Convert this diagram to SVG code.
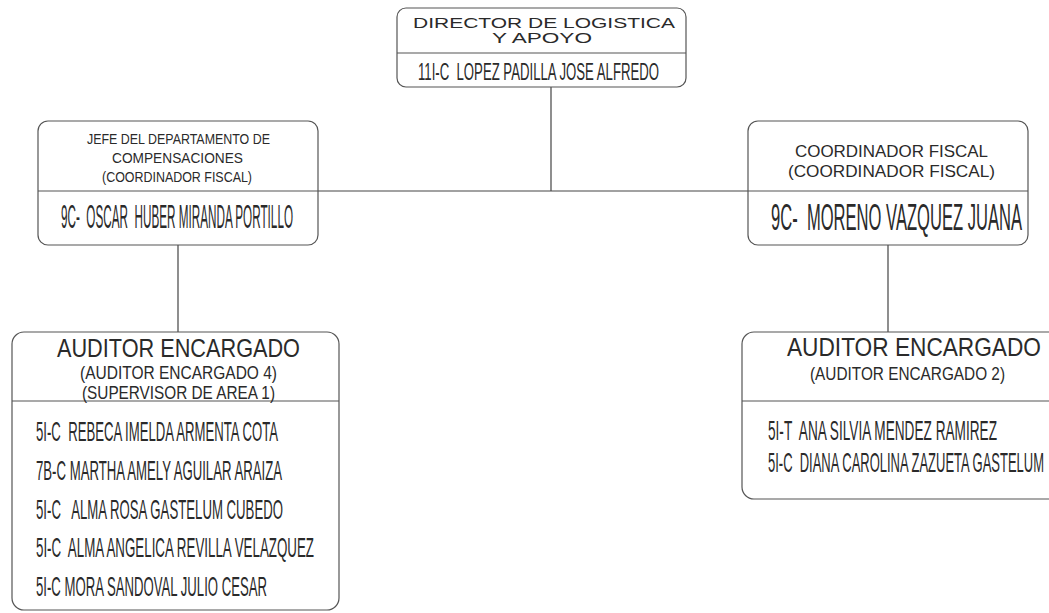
<svg xmlns="http://www.w3.org/2000/svg" width="1049" height="613" viewBox="0 0 1049 613">
<style>
.box{fill:#fff;stroke:#555;stroke-width:1.2}
.div{stroke:#555;stroke-width:1.2}
.conn{stroke:#444;stroke-width:1.2;fill:none}
text{font-family:"Liberation Sans",Arial,sans-serif;fill:#2a2a2a;white-space:pre}
</style>
<rect width="1049" height="613" fill="#fff"/>
<g id="connectors">
<line class="conn" x1="551" y1="87" x2="551" y2="191"/>
<line class="conn" x1="318" y1="191" x2="748" y2="191"/>
<line class="conn" x1="178" y1="245" x2="178" y2="332"/>
<line class="conn" x1="888" y1="245" x2="888" y2="332"/>
</g>
<g id="director">
<rect class="box" x="397" y="8" width="289" height="79" rx="9"/>
<line class="div" x1="397" y1="53" x2="686" y2="53"/>
<text x="413" y="28" font-size="14" textLength="262" lengthAdjust="spacingAndGlyphs">DIRECTOR DE LOGISTICA</text>
<text x="492" y="43" font-size="14" textLength="100" lengthAdjust="spacingAndGlyphs">Y APOYO</text>
<text x="418" y="80" font-size="24" textLength="241" lengthAdjust="spacingAndGlyphs">11I-C  LOPEZ PADILLA JOSE ALFREDO</text>
</g>
<g id="jefe">
<rect class="box" x="38" y="121" width="280" height="124" rx="10"/>
<line class="div" x1="38" y1="191" x2="318" y2="191"/>
<text x="87" y="144" font-size="14" textLength="183" lengthAdjust="spacingAndGlyphs">JEFE DEL DEPARTAMENTO DE</text>
<text x="112" y="163" font-size="14" textLength="131" lengthAdjust="spacingAndGlyphs">COMPENSACIONES</text>
<text x="102" y="182" font-size="14" textLength="150" lengthAdjust="spacingAndGlyphs">(COORDINADOR FISCAL)</text>
<text x="61" y="228" font-size="33" textLength="232" lengthAdjust="spacingAndGlyphs">9C-  OSCAR  HUBER MIRANDA PORTILLO</text>
</g>
<g id="coordinador">
<rect class="box" x="748" y="121" width="280" height="124" rx="10"/>
<line class="div" x1="748" y1="191" x2="1028" y2="191"/>
<text x="795" y="157" font-size="16.5" textLength="193" lengthAdjust="spacingAndGlyphs">COORDINADOR FISCAL</text>
<text x="788" y="177" font-size="16.5" textLength="207" lengthAdjust="spacingAndGlyphs">(COORDINADOR FISCAL)</text>
<text x="771" y="230" font-size="36" textLength="251" lengthAdjust="spacingAndGlyphs">9C-  MORENO VAZQUEZ JUANA</text>
</g>
<g id="auditor4">
<rect class="box" x="12" y="332" width="327" height="278" rx="12"/>
<line class="div" x1="12" y1="401" x2="339" y2="401"/>
<text x="57" y="357" font-size="26" textLength="243" lengthAdjust="spacingAndGlyphs">AUDITOR ENCARGADO</text>
<text x="80" y="379" font-size="18" textLength="197" lengthAdjust="spacingAndGlyphs">(AUDITOR ENCARGADO 4)</text>
<text x="82" y="399" font-size="18" textLength="193" lengthAdjust="spacingAndGlyphs">(SUPERVISOR DE AREA 1)</text>
<text x="36" y="441" font-size="28" textLength="242" lengthAdjust="spacingAndGlyphs">5I-C  REBECA IMELDA ARMENTA COTA</text>
<text x="36" y="480" font-size="28" textLength="246" lengthAdjust="spacingAndGlyphs">7B-C MARTHA AMELY AGUILAR ARAIZA</text>
<text x="36" y="519" font-size="28" textLength="247" lengthAdjust="spacingAndGlyphs">5I-C   ALMA ROSA GASTELUM CUBEDO</text>
<text x="36" y="557" font-size="28" textLength="278" lengthAdjust="spacingAndGlyphs">5I-C  ALMA ANGELICA REVILLA VELAZQUEZ</text>
<text x="36" y="596" font-size="28" textLength="231" lengthAdjust="spacingAndGlyphs">5I-C MORA SANDOVAL JULIO CESAR</text>
</g>
<g id="auditor2">
<rect class="box" x="742" y="332" width="330" height="167" rx="12"/>
<line class="div" x1="742" y1="401" x2="1049" y2="401"/>
<text x="787" y="356" font-size="26" textLength="254" lengthAdjust="spacingAndGlyphs">AUDITOR ENCARGADO</text>
<text x="810" y="380" font-size="18" textLength="195" lengthAdjust="spacingAndGlyphs">(AUDITOR ENCARGADO 2)</text>
<text x="768" y="440" font-size="28" textLength="229" lengthAdjust="spacingAndGlyphs">5I-T  ANA SILVIA MENDEZ RAMIREZ</text>
<text x="768" y="472" font-size="28" textLength="276" lengthAdjust="spacingAndGlyphs">5I-C  DIANA CAROLINA ZAZUETA GASTELUM</text>
</g>
</svg>
